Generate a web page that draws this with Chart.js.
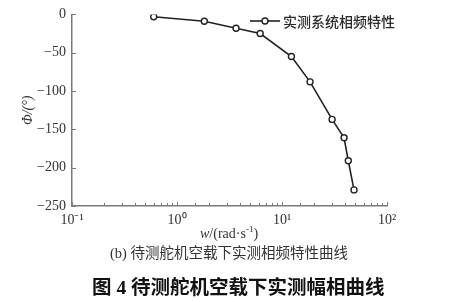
<!DOCTYPE html>
<html><head><meta charset="utf-8">
<script src="https://cdn.jsdelivr.net/npm/chart.js@4/dist/chart.umd.min.js"></script>
<style>
html,body{margin:0;padding:0;background:#fff;}
#wrap{position:relative;width:465px;height:302px;}
canvas{position:absolute;left:0;top:0;}
.t{position:absolute;white-space:nowrap;color:#222;}
</style></head><body>
<div id="wrap">
<canvas id="c" width="465" height="302"></canvas>
<div class="t" id="xt" style="left:200px;top:224px;font:14px 'Liberation Serif',serif;color:#333;"><i>w</i>/(rad·s<sup style="font-size:9px">-1</sup>)</div>
<div class="t" style="left:110px;top:241px;font:14.5px 'Liberation Serif','Noto Sans CJK SC',serif;color:#333;">(b) 待测舵机空载下实测相频特性曲线</div>
<div class="t" style="left:92px;top:271px;font:bold 19.5px 'Liberation Serif','Noto Sans CJK SC',serif;color:#111;">图 4 待测舵机空载下实测幅相曲线</div>
</div>
<script>
const seriesName = '实测系统相频特性';
const omega = [0.6, 1.82, 3.65, 6.2, 12.3, 18.5, 30, 39, 42.8, 48.5];
const phase = [-3, -9, -18, -25, -55, -88, -137, -161, -191, -229];
const yTicks = [0, -50, -100, -150, -200, -250];
const xDecades = [0.1, 1, 10, 100];
const xDecadeLabels = ['10⁻¹', '10⁰', '10¹', '10²'];

const axisColor = '#7a7a7a';

const inwardTicks = {
  id: 'inwardTicks',
  afterDatasetsDraw(chart) {
    const ctx = chart.ctx, xs = chart.scales.x, ys = chart.scales.y, a = chart.chartArea;
    ctx.save();
    ctx.strokeStyle = axisColor; ctx.lineWidth = 1;
    ctx.beginPath();
    yTicks.forEach(v => { const y = Math.round(ys.getPixelForValue(v)) + 0.5; ctx.moveTo(a.left, y); ctx.lineTo(a.left + 4, y); });
    xs.ticks.forEach(t => {
      const x = Math.round(xs.getPixelForValue(t.value)) + 0.5;
      const major = xDecades.some(d => Math.abs(d - t.value) < 1e-9);
      ctx.moveTo(x, a.bottom); ctx.lineTo(x, a.bottom - (major ? 4 : 3));
    });
    ctx.stroke();
    // legend
    const lx = 250, ly = 21;
    ctx.strokeStyle = '#222'; ctx.lineWidth = 1.6;
    ctx.beginPath(); ctx.moveTo(lx, ly); ctx.lineTo(lx + 30, ly); ctx.stroke();
    ctx.beginPath(); ctx.arc(lx + 15, ly, 3, 0, Math.PI * 2); ctx.fillStyle = '#fff'; ctx.fill();
    ctx.lineWidth = 1.4; ctx.stroke();
    ctx.fillStyle = '#2a2a2a'; ctx.font = '500 14px "Noto Sans CJK SC"'; ctx.textBaseline = 'middle';
    ctx.fillText(seriesName, lx + 33, ly + 1);
    ctx.restore();
  }
};

new Chart(document.getElementById('c'), {
  type: 'scatter',
  data: { datasets: [{
    label: seriesName,
    data: omega.map((w, i) => ({x: w, y: phase[i]})),
    showLine: true, borderColor: '#222', borderWidth: 1.6,
    pointRadius: 3, pointBorderWidth: 1.4, pointBackgroundColor: '#fff', pointBorderColor: '#222'
  }]},
  options: {
    responsive: false, animation: false, devicePixelRatio: 1,
    layout: { padding: { left: 0, right: 78, top: 14, bottom: 0 } },
    plugins: { legend: { display: false }, tooltip: { enabled: false } },
    scales: {
      x: {
        type: 'logarithmic', min: 0.1, max: 100,
        grid: { display: false, drawTicks: false },
        border: { display: true, color: axisColor, width: 1.5 },
        ticks: {
          autoSkip: false, maxRotation: 0, padding: 6, color: '#333',
          font: { family: 'Liberation Serif', size: 14 },
          callback: (v) => { const i = xDecades.findIndex(d => Math.abs(d - v) < 1e-9); return i >= 0 ? xDecadeLabels[i] : ''; }
        },
        afterFit: (s) => { s.height = 96; }
      },
      y: {
        min: -250, max: 0,
        afterBuildTicks: (s) => { s.ticks = yTicks.map(v => ({value: v})); },
        grid: { display: false, drawTicks: false },
        border: { display: true, color: axisColor, width: 1.5 },
        ticks: { padding: 6, color: '#333', font: { family: 'Liberation Serif', size: 14 },
          callback: (v) => (v < 0 ? '\u2212' + Math.abs(v) : String(v)) },
        title: { display: true, text: 'Φ/(°)', color: '#333', font: { family: 'Liberation Serif', size: 14, style: 'italic' }, padding: { top: 20, bottom: 0 } },
        afterFit: (s) => { s.width = 72; }
      }
    }
  },
  plugins: [inwardTicks]
});
</script>
</body></html>
